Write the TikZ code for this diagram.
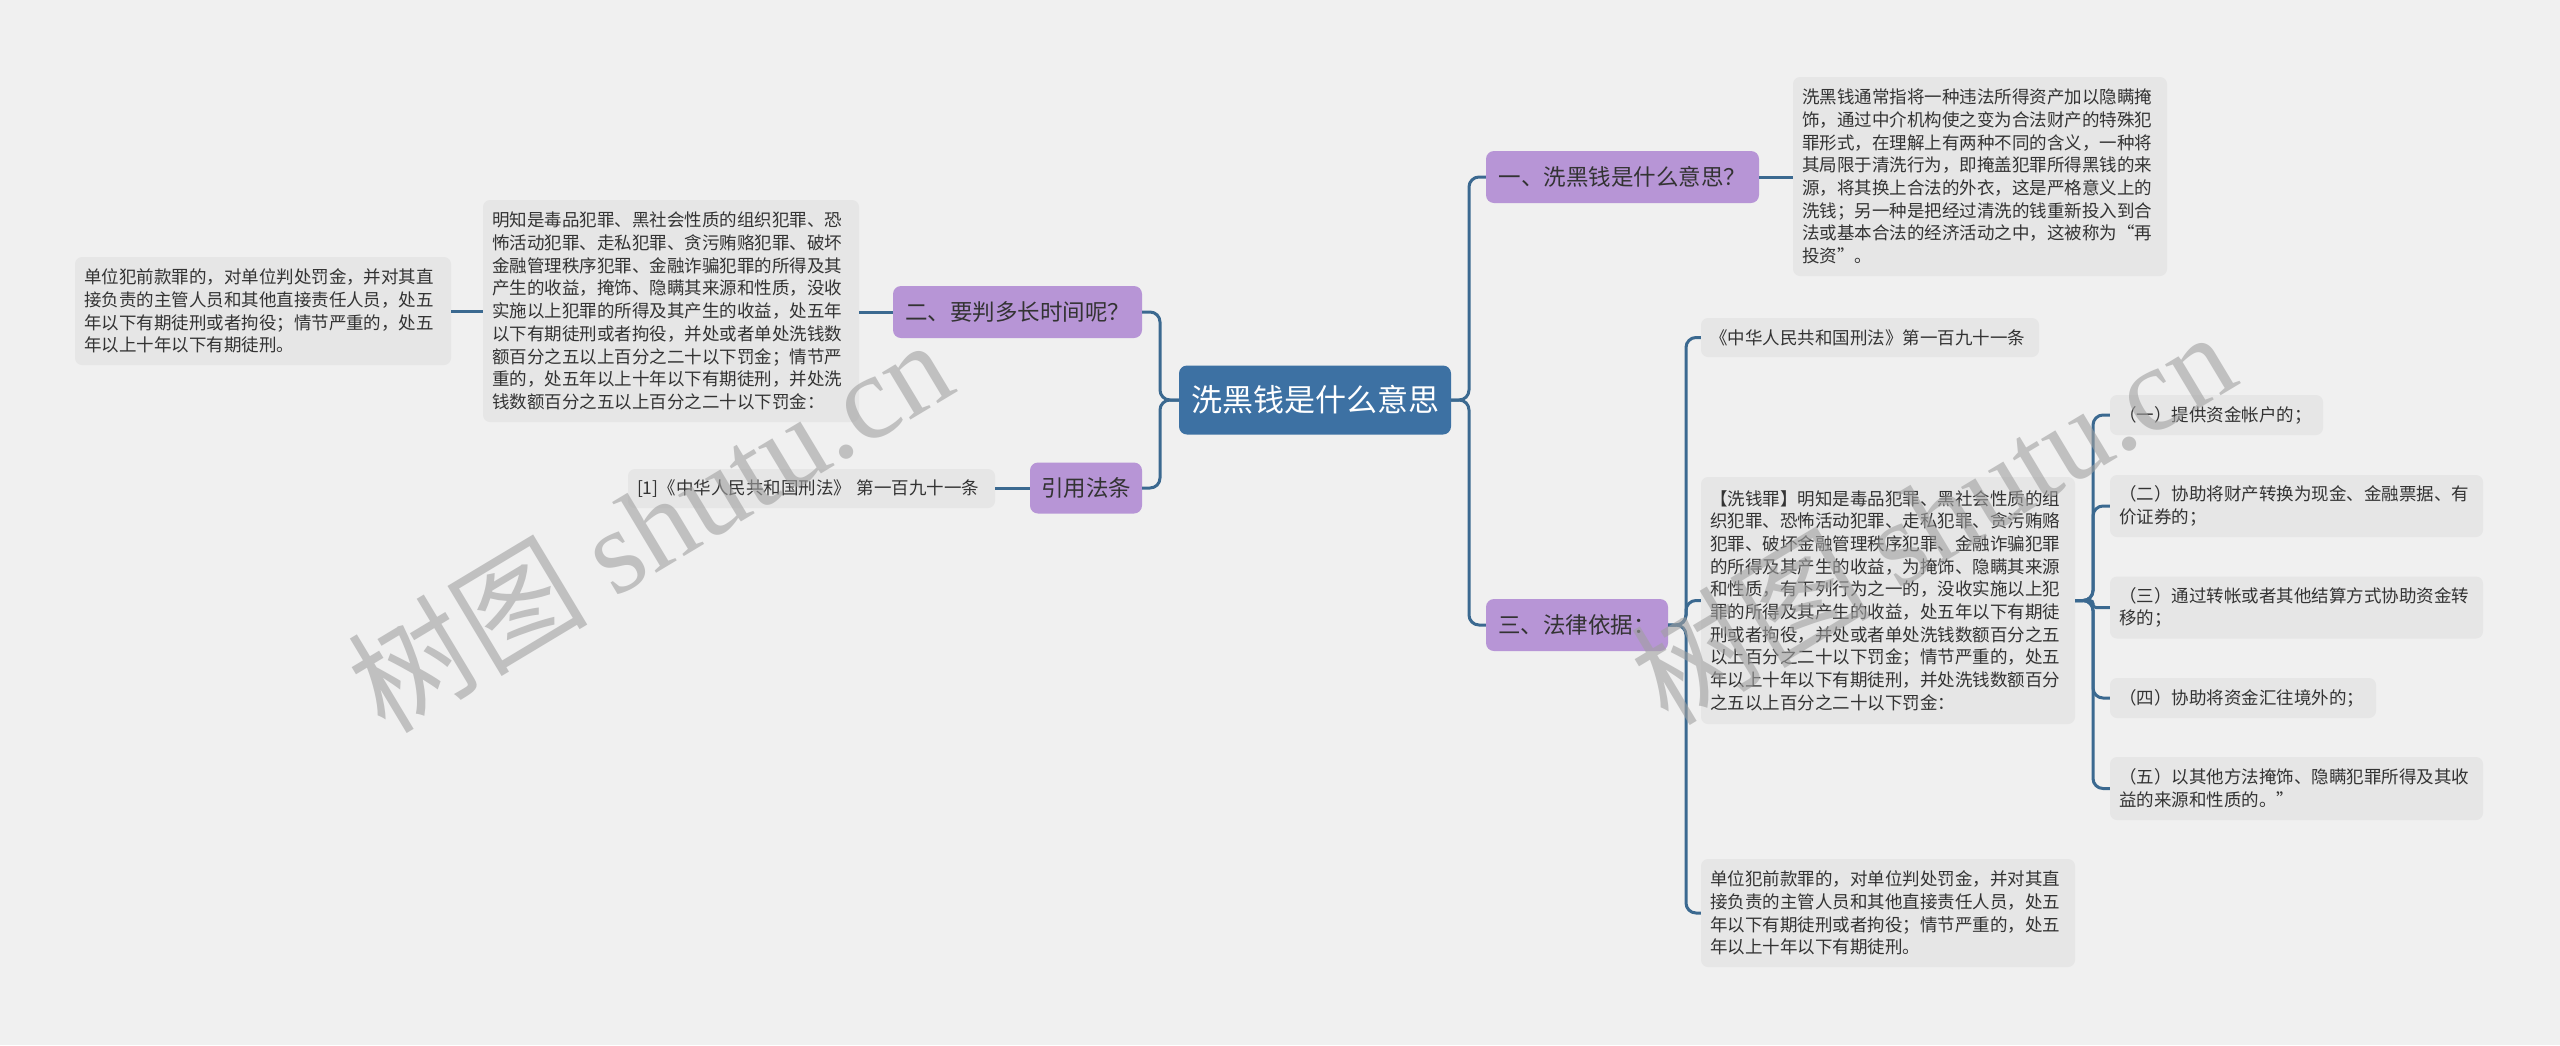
\documentclass[tikz,border=0pt]{standalone}
\usepackage{fontspec}
\setmainfont{Noto Sans CJK SC}
\newfontfamily\wmserif{Liberation Serif}
\usetikzlibrary{calc}
\definecolor{bg}{HTML}{F0F0F0}
\definecolor{rootc}{HTML}{3D71A3}
\definecolor{purp}{HTML}{B795D6}
\definecolor{boxc}{HTML}{E6E6E6}
\definecolor{linec}{HTML}{3B6990}
\definecolor{txt}{HTML}{333333}
\definecolor{wmc}{HTML}{A0A0A0}
\begin{document}
\begin{tikzpicture}[x=1pt,y=-1pt,
  rootnode/.style={fill=rootc, rounded corners=8pt, text=white, font=\fontsize{31}{36}\selectfont, minimum width=272pt, minimum height=69pt, inner sep=0pt},
  topic/.style={fill=purp, rounded corners=8pt, text=txt, font=\fontsize{22.5}{27}\selectfont, minimum height=52pt, inner sep=0pt},
  leaf/.style={fill=boxc, rounded corners=7pt, text=txt, font=\fontsize{17.5}{22.7}\selectfont, align=left, inner xsep=9pt, inner ysep=0pt},
  conn/.style={draw=linec, line width=3pt, rounded corners=10pt},
  connsmall/.style={draw=linec, line width=3pt, rounded corners=3pt},
  wm/.style={text=wmc, opacity=0.6, rotate=31, inner sep=0pt}
]
\fill[bg] (0,0) rectangle (2560,1045);
\useasboundingbox (0,0) rectangle (2560,1045);

% root and main topics
\node[rootnode] (root) at (1315,400) {洗黑钱是什么意思};
\node[topic, minimum width=273pt] (n1) at (1622.5,177) {一、洗黑钱是什么意思？};
\node[topic, minimum width=182pt] (n3) at (1577,625) {三、法律依据：};
\node[topic, minimum width=249pt] (n2) at (1017.5,312) {二、要判多长时间呢？};
\node[topic, minimum width=112pt, minimum height=51pt] (n4) at (1086,488) {引用法条};

% right side leaves
\node[leaf, text width=356pt, minimum height=199pt] (t1) at (1980,176.5) {洗黑钱通常指将一种违法所得资产加以隐瞒掩\\饰，通过中介机构使之变为合法财产的特殊犯\\罪形式，在理解上有两种不同的含义，一种将\\其局限于清洗行为，即掩盖犯罪所得黑钱的来\\源，将其换上合法的外衣，这是严格意义上的\\洗钱；另一种是把经过清洗的钱重新投入到合\\法或基本合法的经济活动之中，这被称为“再\\投资”。};
\node[leaf, text width=320pt, minimum height=39pt] (t2) at (1870,337.5) {《中华人民共和国刑法》第一百九十一条};
\node[leaf, text width=356pt, minimum height=247pt] (t3) at (1888,600.5) {【洗钱罪】明知是毒品犯罪、黑社会性质的组\\织犯罪、恐怖活动犯罪、走私犯罪、贪污贿赂\\犯罪、破坏金融管理秩序犯罪、金融诈骗犯罪\\的所得及其产生的收益，为掩饰、隐瞒其来源\\和性质，有下列行为之一的，没收实施以上犯\\罪的所得及其产生的收益，处五年以下有期徒\\刑或者拘役，并处或者单处洗钱数额百分之五\\以上百分之二十以下罚金；情节严重的，处五\\年以上十年以下有期徒刑，并处洗钱数额百分\\之五以上百分之二十以下罚金：};
\node[leaf, text width=356pt, minimum height=108pt] (t4) at (1888,913) {单位犯前款罪的，对单位判处罚金，并对其直\\接负责的主管人员和其他直接责任人员，处五\\年以下有期徒刑或者拘役；情节严重的，处五\\年以上十年以下有期徒刑。};

\node[leaf, text width=195pt, minimum height=40pt] (c1) at (2216.5,415) {（一）提供资金帐户的；};
\node[leaf, text width=355pt, minimum height=62pt] (c2) at (2296.5,506) {（二）协助将财产转换为现金、金融票据、有\\价证券的；};
\node[leaf, text width=355pt, minimum height=62pt] (c3) at (2296.5,607.5) {（三）通过转帐或者其他结算方式协助资金转\\移的；};
\node[leaf, text width=248pt, minimum height=40pt] (c4) at (2243,698) {（四）协助将资金汇往境外的；};
\node[leaf, text width=355pt, minimum height=63pt] (c5) at (2296.5,788.5) {（五）以其他方法掩饰、隐瞒犯罪所得及其收\\益的来源和性质的。”};

% left side leaves
\node[leaf, text width=358pt, minimum height=222pt] (l1) at (671,311) {明知是毒品犯罪、黑社会性质的组织犯罪、恐\\怖活动犯罪、走私犯罪、贪污贿赂犯罪、破坏\\金融管理秩序犯罪、金融诈骗犯罪的所得及其\\产生的收益，掩饰、隐瞒其来源和性质，没收\\实施以上犯罪的所得及其产生的收益，处五年\\以下有期徒刑或者拘役，并处或者单处洗钱数\\额百分之五以上百分之二十以下罚金；情节严\\重的，处五年以上十年以下有期徒刑，并处洗\\钱数额百分之五以上百分之二十以下罚金：};
\node[leaf, text width=358pt, minimum height=108pt] (l2) at (263,311) {单位犯前款罪的，对单位判处罚金，并对其直\\接负责的主管人员和其他直接责任人员，处五\\年以下有期徒刑或者拘役；情节严重的，处五\\年以上十年以下有期徒刑。};
\node[leaf, text width=349pt, minimum height=39pt] (l3) at (811.5,488.5) {[1]《中华人民共和国刑法》 第一百九十一条};

% junction coordinates
\coordinate (jr) at (1469,400);
\coordinate (jl) at (1160,400);
\coordinate (j3) at (1686,625);
\coordinate (j5) at (2093,600.5);

% connectors
\draw[conn] (root.east) -- (jr) |- (n1.west);
\draw[conn] (root.east) -- (jr) |- (n3.west);
\draw[conn] (root.west) -- (jl) |- (n2.east);
\draw[conn] (root.west) -- (jl) |- (n4.east);
\draw[conn] (n1.east) -- (n1.east -| t1.west);
\draw[conn] (n3.east) -- (j3) |- (t2.west);
\draw[conn] (n3.east) -- (j3) |- (t3.west);
\draw[conn] (n3.east) -- (j3) |- (t4.west);
\draw[conn] (t3.east) -- (j5) |- (c1.west);
\draw[conn] (t3.east) -- (j5) |- (c2.west);
\draw[connsmall] (t3.east) -- (j5) |- (c3.west);
\draw[conn] (t3.east) -- (j5) |- (c4.west);
\draw[conn] (t3.east) -- (j5) |- (c5.west);
\draw[conn] (n2.west) -- (n2.west -| l1.east);
\draw[conn] (l1.west) -- (l1.west -| l2.east);
\draw[conn] (n4.west) -- (n4.west -| l3.east);

% watermarks
\node[wm] (wm1) at (649,524) {\fontsize{120}{120}\selectfont 树图 {\wmserif shutu.cn}};
\node[wm] (wm2) at (1932,516) {\fontsize{120}{120}\selectfont 树图 {\wmserif shutu.cn}};
\end{tikzpicture}
\end{document}
